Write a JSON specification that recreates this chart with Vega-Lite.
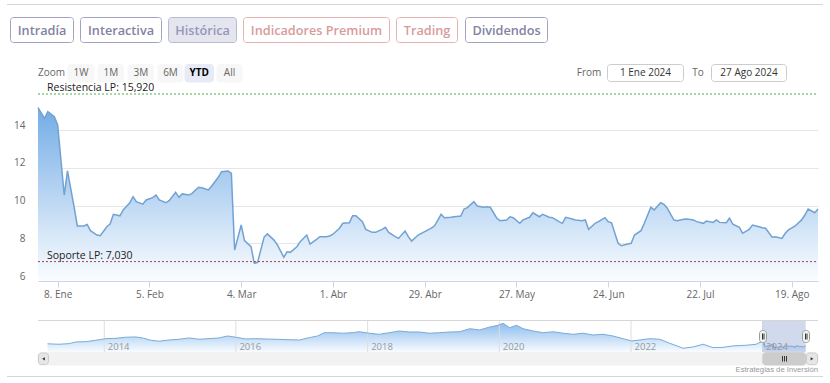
{
  "$schema": "https://vega.github.io/schema/vega-lite/v6.json",
  "width": 830,
  "height": 383,
  "autosize": {"type": "none"},
  "padding": 0,
  "background": "white",
  "config": {"view": {"stroke": null}, "font": "Open Sans"},
  "datasets": {
    "prices": [
      {"date": "2024-01-02", "close": 15.2}, {"date": "2024-01-04", "close": 14.63}, {"date": "2024-01-05", "close": 14.98},
      {"date": "2024-01-07", "close": 14.72}, {"date": "2024-01-08", "close": 14.28}, {"date": "2024-01-10", "close": 10.56},
      {"date": "2024-01-11", "close": 11.84}, {"date": "2024-01-13", "close": 9.94}, {"date": "2024-01-14", "close": 8.92},
      {"date": "2024-01-16", "close": 8.92}, {"date": "2024-01-17", "close": 9.0}, {"date": "2024-01-18", "close": 8.67},
      {"date": "2024-01-20", "close": 8.44}, {"date": "2024-01-21", "close": 8.4}, {"date": "2024-01-23", "close": 8.88},
      {"date": "2024-01-24", "close": 9.02}, {"date": "2024-01-25", "close": 9.54}, {"date": "2024-01-27", "close": 9.46},
      {"date": "2024-01-28", "close": 9.77}, {"date": "2024-01-30", "close": 10.15}, {"date": "2024-01-31", "close": 10.47},
      {"date": "2024-02-01", "close": 10.21}, {"date": "2024-02-03", "close": 10.08}, {"date": "2024-02-04", "close": 10.3},
      {"date": "2024-02-06", "close": 10.42}, {"date": "2024-02-07", "close": 10.56}, {"date": "2024-02-08", "close": 10.3},
      {"date": "2024-02-10", "close": 10.15}, {"date": "2024-02-11", "close": 10.26}, {"date": "2024-02-13", "close": 10.71},
      {"date": "2024-02-14", "close": 10.44}, {"date": "2024-02-15", "close": 10.62}, {"date": "2024-02-17", "close": 10.56},
      {"date": "2024-02-18", "close": 10.65}, {"date": "2024-02-20", "close": 10.97}, {"date": "2024-02-21", "close": 10.95},
      {"date": "2024-02-23", "close": 10.83}, {"date": "2024-02-24", "close": 11.04}, {"date": "2024-02-26", "close": 11.5},
      {"date": "2024-02-27", "close": 11.8}, {"date": "2024-02-29", "close": 11.84}, {"date": "2024-03-01", "close": 11.71},
      {"date": "2024-03-02", "close": 7.64}, {"date": "2024-03-04", "close": 8.97}, {"date": "2024-03-05", "close": 8.14},
      {"date": "2024-03-07", "close": 7.82}, {"date": "2024-03-08", "close": 6.94}, {"date": "2024-03-09", "close": 6.99},
      {"date": "2024-03-11", "close": 8.33}, {"date": "2024-03-12", "close": 8.5}, {"date": "2024-03-14", "close": 8.17},
      {"date": "2024-03-15", "close": 7.93}, {"date": "2024-03-17", "close": 7.26}, {"date": "2024-03-18", "close": 7.55},
      {"date": "2024-03-19", "close": 7.52}, {"date": "2024-03-21", "close": 7.82}, {"date": "2024-03-22", "close": 8.09},
      {"date": "2024-03-24", "close": 8.44}, {"date": "2024-03-25", "close": 7.96}, {"date": "2024-03-27", "close": 8.21},
      {"date": "2024-03-28", "close": 8.35}, {"date": "2024-03-30", "close": 8.35}, {"date": "2024-03-31", "close": 8.39},
      {"date": "2024-04-01", "close": 8.48}, {"date": "2024-04-03", "close": 8.8}, {"date": "2024-04-04", "close": 9.06},
      {"date": "2024-04-06", "close": 9.09}, {"date": "2024-04-07", "close": 9.46}, {"date": "2024-04-08", "close": 9.46},
      {"date": "2024-04-10", "close": 9.15}, {"date": "2024-04-11", "close": 8.74}, {"date": "2024-04-13", "close": 8.58},
      {"date": "2024-04-14", "close": 8.58}, {"date": "2024-04-16", "close": 8.74}, {"date": "2024-04-17", "close": 8.85},
      {"date": "2024-04-18", "close": 8.58}, {"date": "2024-04-20", "close": 8.35}, {"date": "2024-04-21", "close": 8.26},
      {"date": "2024-04-23", "close": 8.65}, {"date": "2024-04-24", "close": 8.35}, {"date": "2024-04-25", "close": 8.12},
      {"date": "2024-04-27", "close": 8.44}, {"date": "2024-04-28", "close": 8.53}, {"date": "2024-04-30", "close": 8.71},
      {"date": "2024-05-01", "close": 8.8}, {"date": "2024-05-02", "close": 8.93}, {"date": "2024-05-04", "close": 9.54},
      {"date": "2024-05-05", "close": 9.36}, {"date": "2024-05-07", "close": 9.38}, {"date": "2024-05-08", "close": 9.41},
      {"date": "2024-05-10", "close": 9.45}, {"date": "2024-05-11", "close": 9.82}, {"date": "2024-05-12", "close": 9.89},
      {"date": "2024-05-14", "close": 10.21}, {"date": "2024-05-15", "close": 9.98}, {"date": "2024-05-17", "close": 9.91},
      {"date": "2024-05-18", "close": 9.94}, {"date": "2024-05-19", "close": 9.91}, {"date": "2024-05-21", "close": 9.33},
      {"date": "2024-05-22", "close": 9.2}, {"date": "2024-05-24", "close": 9.24}, {"date": "2024-05-25", "close": 9.41},
      {"date": "2024-05-26", "close": 9.36}, {"date": "2024-05-28", "close": 9.06}, {"date": "2024-05-29", "close": 9.24},
      {"date": "2024-05-31", "close": 9.38}, {"date": "2024-06-01", "close": 9.62}, {"date": "2024-06-03", "close": 9.41},
      {"date": "2024-06-04", "close": 9.54}, {"date": "2024-06-06", "close": 9.38}, {"date": "2024-06-07", "close": 9.36},
      {"date": "2024-06-09", "close": 9.15}, {"date": "2024-06-10", "close": 9.06}, {"date": "2024-06-11", "close": 9.38},
      {"date": "2024-06-13", "close": 9.29}, {"date": "2024-06-14", "close": 9.24}, {"date": "2024-06-16", "close": 9.2},
      {"date": "2024-06-17", "close": 9.24}, {"date": "2024-06-18", "close": 8.74}, {"date": "2024-06-20", "close": 9.06},
      {"date": "2024-06-21", "close": 9.15}, {"date": "2024-06-23", "close": 9.36}, {"date": "2024-06-24", "close": 9.15},
      {"date": "2024-06-25", "close": 9.09}, {"date": "2024-06-27", "close": 8.0}, {"date": "2024-06-28", "close": 7.87},
      {"date": "2024-06-30", "close": 7.96}, {"date": "2024-07-01", "close": 8.0}, {"date": "2024-07-02", "close": 8.44},
      {"date": "2024-07-04", "close": 8.67}, {"date": "2024-07-05", "close": 9.06}, {"date": "2024-07-07", "close": 9.91},
      {"date": "2024-07-08", "close": 9.77}, {"date": "2024-07-10", "close": 10.15}, {"date": "2024-07-11", "close": 10.07},
      {"date": "2024-07-12", "close": 9.86}, {"date": "2024-07-14", "close": 9.24}, {"date": "2024-07-15", "close": 9.2},
      {"date": "2024-07-17", "close": 9.27}, {"date": "2024-07-18", "close": 9.29}, {"date": "2024-07-20", "close": 9.24},
      {"date": "2024-07-21", "close": 9.15}, {"date": "2024-07-23", "close": 9.06}, {"date": "2024-07-24", "close": 9.18},
      {"date": "2024-07-26", "close": 9.11}, {"date": "2024-07-27", "close": 9.24}, {"date": "2024-07-28", "close": 9.11},
      {"date": "2024-07-30", "close": 9.09}, {"date": "2024-07-31", "close": 9.33}, {"date": "2024-08-01", "close": 9.02},
      {"date": "2024-08-03", "close": 8.85}, {"date": "2024-08-04", "close": 8.53}, {"date": "2024-08-06", "close": 8.74},
      {"date": "2024-08-07", "close": 8.97}, {"date": "2024-08-09", "close": 8.88}, {"date": "2024-08-10", "close": 8.83},
      {"date": "2024-08-11", "close": 8.8}, {"date": "2024-08-13", "close": 8.32}, {"date": "2024-08-14", "close": 8.35},
      {"date": "2024-08-16", "close": 8.26}, {"date": "2024-08-17", "close": 8.53}, {"date": "2024-08-18", "close": 8.71},
      {"date": "2024-08-20", "close": 8.92}, {"date": "2024-08-22", "close": 9.24}, {"date": "2024-08-23", "close": 9.5},
      {"date": "2024-08-24", "close": 9.82}, {"date": "2024-08-26", "close": 9.62}, {"date": "2024-08-27", "close": 9.82}
    ],
    "history": [
      {"date": "2013-02-20", "close": 12.0}, {"date": "2013-04-25", "close": 11.5}, {"date": "2013-06-20", "close": 12.2},
      {"date": "2013-07-27", "close": 14.1}, {"date": "2013-09-21", "close": 14.4}, {"date": "2013-11-15", "close": 16.0},
      {"date": "2014-01-10", "close": 17.8}, {"date": "2014-03-07", "close": 18.2}, {"date": "2014-05-01", "close": 19.4},
      {"date": "2014-06-25", "close": 19.7}, {"date": "2014-08-01", "close": 18.6}, {"date": "2014-09-16", "close": 16.0},
      {"date": "2014-11-01", "close": 14.9}, {"date": "2014-12-27", "close": 16.3}, {"date": "2015-02-20", "close": 17.1},
      {"date": "2015-04-16", "close": 18.6}, {"date": "2015-06-11", "close": 17.1}, {"date": "2015-08-05", "close": 17.8},
      {"date": "2015-09-30", "close": 18.6}, {"date": "2015-11-15", "close": 20.8}, {"date": "2016-01-01", "close": 19.4},
      {"date": "2016-02-25", "close": 17.4}, {"date": "2016-04-21", "close": 17.8}, {"date": "2016-06-16", "close": 17.4},
      {"date": "2016-08-10", "close": 17.1}, {"date": "2016-10-05", "close": 16.7}, {"date": "2016-12-18", "close": 16.3},
      {"date": "2017-02-11", "close": 18.9}, {"date": "2017-03-29", "close": 20.8}, {"date": "2017-05-05", "close": 24.5},
      {"date": "2017-06-20", "close": 24.5}, {"date": "2017-08-14", "close": 23.9}, {"date": "2017-10-09", "close": 24.5},
      {"date": "2017-11-14", "close": 25.6}, {"date": "2018-01-10", "close": 23.9}, {"date": "2018-03-06", "close": 22.7},
      {"date": "2018-05-01", "close": 24.5}, {"date": "2018-06-25", "close": 26.4}, {"date": "2018-08-19", "close": 25.3},
      {"date": "2018-10-13", "close": 25.3}, {"date": "2018-12-08", "close": 23.9}, {"date": "2019-02-05", "close": 24.5},
      {"date": "2019-04-01", "close": 25.3}, {"date": "2019-05-27", "close": 25.6}, {"date": "2019-07-21", "close": 29.0},
      {"date": "2019-09-15", "close": 27.6}, {"date": "2019-11-09", "close": 30.9}, {"date": "2019-12-25", "close": 32.8},
      {"date": "2020-01-22", "close": 35.1}, {"date": "2020-02-28", "close": 30.1}, {"date": "2020-04-06", "close": 32.8},
      {"date": "2020-05-12", "close": 29.0}, {"date": "2020-07-07", "close": 26.4}, {"date": "2020-09-01", "close": 24.5},
      {"date": "2020-10-26", "close": 25.6}, {"date": "2020-12-20", "close": 23.9}, {"date": "2021-02-14", "close": 22.7},
      {"date": "2021-04-10", "close": 23.9}, {"date": "2021-06-04", "close": 21.9}, {"date": "2021-07-30", "close": 22.7},
      {"date": "2021-09-23", "close": 20.8}, {"date": "2021-11-17", "close": 17.8}, {"date": "2022-01-04", "close": 15.2},
      {"date": "2022-02-19", "close": 16.3}, {"date": "2022-04-15", "close": 17.8}, {"date": "2022-06-10", "close": 17.1},
      {"date": "2022-08-04", "close": 12.6}, {"date": "2022-10-17", "close": 7.0}, {"date": "2022-12-12", "close": 8.5},
      {"date": "2023-02-05", "close": 11.5}, {"date": "2023-04-01", "close": 7.7}, {"date": "2023-05-26", "close": 8.0},
      {"date": "2023-07-20", "close": 9.6}, {"date": "2023-10-03", "close": 10.4}, {"date": "2023-11-27", "close": 11.5},
      {"date": "2023-12-29", "close": 15.0}
    ],
    "years": [
      {"year": "2014-01-01"}, {"year": "2016-01-01"}, {"year": "2018-01-01"},
      {"year": "2020-01-01"}, {"year": "2022-01-01"}, {"year": "2024-01-01"}
    ],
    "levels": [
      {"label": "Resistencia LP: 15,920", "value": 15.92, "kind": "Resistencia"},
      {"label": "Soporte LP: 7,030", "value": 7.03, "kind": "Soporte"}
    ],
    "boxes": [
      {"role": "tab", "x0": 10.5, "x1": 73.5, "y0": 17.5, "y1": 42.5},
      {"role": "tab", "x0": 80.5, "x1": 161.5, "y0": 17.5, "y1": 42.5},
      {"role": "tabActive", "x0": 168.5, "x1": 236.5, "y0": 17.5, "y1": 42.5},
      {"role": "tabPremium", "x0": 243.5, "x1": 389.5, "y0": 17.5, "y1": 42.5},
      {"role": "tabPremium", "x0": 396.5, "x1": 457.5, "y0": 17.5, "y1": 42.5},
      {"role": "tab", "x0": 465.5, "x1": 547.5, "y0": 17.5, "y1": 42.5},
      {"role": "zoomBtn", "x0": 68, "x1": 94, "y0": 64.5, "y1": 82},
      {"role": "zoomBtn", "x0": 98, "x1": 123.5, "y0": 64.5, "y1": 82},
      {"role": "zoomBtn", "x0": 128, "x1": 153.5, "y0": 64.5, "y1": 82},
      {"role": "zoomBtn", "x0": 158, "x1": 183, "y0": 64.5, "y1": 82},
      {"role": "zoomActive", "x0": 185, "x1": 213.5, "y0": 64.5, "y1": 82},
      {"role": "zoomBtn", "x0": 217, "x1": 242, "y0": 64.5, "y1": 82},
      {"role": "input", "x0": 607.5, "x1": 683.5, "y0": 64.5, "y1": 81.5},
      {"role": "input", "x0": 711.5, "x1": 786.5, "y0": 64.5, "y1": 81.5},
      {"role": "track", "x0": 38, "x1": 818, "y0": 352.7, "y1": 365},
      {"role": "arrowBtn", "x0": 38.5, "x1": 48.5, "y0": 353, "y1": 364.5},
      {"role": "thumb", "x0": 762.8, "x1": 805.7, "y0": 352.7, "y1": 365},
      {"role": "arrowBtn", "x0": 806.5, "x1": 817.5, "y0": 353, "y1": 364.5},
      {"role": "handle", "x0": 759.5, "x1": 766.5, "y0": 330.5, "y1": 342.5},
      {"role": "handle", "x0": 802.5, "x1": 809.5, "y0": 330.5, "y1": 342.5}
    ],
    "grips": [
      {"x": 782.5, "y0": 356, "y1": 361.5},
      {"x": 784.5, "y0": 356, "y1": 361.5},
      {"x": 786.5, "y0": 356, "y1": 361.5},
      {"x": 762.5, "y0": 333.5, "y1": 339.5},
      {"x": 764, "y0": 333.5, "y1": 339.5},
      {"x": 805.5, "y0": 333.5, "y1": 339.5},
      {"x": 807, "y0": 333.5, "y1": 339.5}
    ],
    "arrows": [
      {"dir": "left", "x": 43.5, "y": 358.8},
      {"dir": "right", "x": 812, "y": 358.8}
    ],
    "tabLabels": [
      {"text": "Intradía", "role": "tab", "x": 42, "y": 30.5},
      {"text": "Interactiva", "role": "tab", "x": 121, "y": 30.5},
      {"text": "Histórica", "role": "tabActive", "x": 202.5, "y": 30.5},
      {"text": "Indicadores Premium", "role": "tabPremium", "x": 316.5, "y": 30.5},
      {"text": "Trading", "role": "tabPremium", "x": 427, "y": 30.5},
      {"text": "Dividendos", "role": "tab", "x": 506.5, "y": 30.5}
    ],
    "uiLabels": [
      {"text": "Zoom", "role": "muted", "x": 51.5, "y": 73},
      {"text": "1W", "role": "muted", "x": 81, "y": 73},
      {"text": "1M", "role": "muted", "x": 110.8, "y": 73},
      {"text": "3M", "role": "muted", "x": 140.8, "y": 73},
      {"text": "6M", "role": "muted", "x": 170.5, "y": 73},
      {"text": "All", "role": "muted", "x": 229.5, "y": 73},
      {"text": "From", "role": "muted", "x": 589, "y": 72.5},
      {"text": "1 Ene 2024", "role": "dark", "x": 645.5, "y": 72.5},
      {"text": "To", "role": "muted", "x": 698, "y": 72.5},
      {"text": "27 Ago 2024", "role": "dark", "x": 749, "y": 72.5}
    ],
    "credits": [
      {"text": "Estrategias de Inversión", "x": 818, "y": 370}
    ],
    "boldLabels": [
      {"text": "YTD", "x": 199.3, "y": 73}
    ],
    "lines": [
      {"x0": 7, "x1": 823, "y": 4.5},
      {"x0": 7, "x1": 823, "y": 376.5},
      {"x0": 38, "x1": 818, "y": 320.5}
    ]
  },
  "resolve": {
    "scale": {"x": "independent", "y": "independent", "color": "independent", "fill": "independent", "stroke": "independent", "size": "independent", "shape": "independent"},
    "axis": {"x": "independent", "y": "independent"}
  },
  "layer": [
    {
      "layer": [
        {
          "data": {"name": "prices"},
          "mark": {
            "type": "area",
            "fill": {"gradient": "linear", "x1": 0, "y1": 0, "x2": 0, "y2": 1,
              "stops": [{"offset": 0, "color": "#74ace6"}, {"offset": 1, "color": "#fbfdff"}]}
          },
          "encoding": {
            "x": {
              "field": "date", "type": "temporal",
              "scale": {"type": "utc", "domain": [{"year": 2024, "month": 1, "date": 2, "utc": true}, {"year": 2024, "month": 8, "date": 27, "utc": true}], "range": [38, 818]},
              "axis": {
                "orient": "bottom", "offset": -102, "title": null, "grid": false,
                "values": [
                  {"year": 2024, "month": 1, "date": 8, "utc": true},
                  {"year": 2024, "month": 2, "date": 5, "utc": true},
                  {"year": 2024, "month": 3, "date": 4, "utc": true},
                  {"year": 2024, "month": 4, "date": 1, "utc": true},
                  {"year": 2024, "month": 4, "date": 29, "utc": true},
                  {"year": 2024, "month": 5, "date": 27, "utc": true},
                  {"year": 2024, "month": 6, "date": 24, "utc": true},
                  {"year": 2024, "month": 7, "date": 22, "utc": true},
                  {"year": 2024, "month": 8, "date": 19, "utc": true}
                ],
                "labelExpr": "utcdate(datum.value) + '. ' + ['Ene','Feb','Mar','Abr','May','Jun','Jul','Ago','Sep','Oct','Nov','Dic'][utcmonth(datum.value)]",
                "domainColor": "#ccd6eb", "tickColor": "#ccd6eb", "tickSize": 6, "labelPadding": 2,
                "labelColor": "#666666", "labelFontSize": 10, "labelFont": "Open Sans", "labelFlush": false, "labelOverlap": false
              }
            },
            "y": {
              "field": "close", "type": "quantitative",
              "scale": {"domain": [6, 16], "range": [281, 92.5], "nice": false, "zero": false},
              "axis": {
                "orient": "left", "offset": -38, "title": null, "values": [6, 8, 10, 12, 14],
                "domain": false, "ticks": false, "grid": true, "gridColor": "#e6e6e6",
                "labelPadding": 13, "labelColor": "#666666", "labelFontSize": 10, "labelFont": "Open Sans",
                "labelBaseline": "alphabetic", "labelOffset": -2
              }
            },
            "y2": {"datum": 6}
          }
        },
        {
          "data": {"name": "prices"},
          "mark": {"type": "line", "color": "#72a2d2", "strokeWidth": 1.5},
          "encoding": {
            "x": {"field": "date", "type": "temporal"},
            "y": {"field": "close", "type": "quantitative"}
          }
        },
        {
          "data": {"name": "levels"},
          "mark": {"type": "rule", "strokeDash": [2, 2], "strokeWidth": 1},
          "encoding": {
            "x": {"datum": {"year": 2024, "month": 1, "date": 2, "utc": true}},
            "x2": {"datum": {"year": 2024, "month": 8, "date": 27, "utc": true}},
            "y": {"field": "value", "type": "quantitative"},
            "color": {"field": "kind", "type": "nominal", "scale": {"domain": ["Resistencia", "Soporte"], "range": ["#4fae4f", "#a04848"]}, "legend": null}
          }
        },
        {
          "data": {"name": "levels"},
          "mark": {"type": "text", "align": "left", "baseline": "middle", "dx": 9, "dy": -6, "fontSize": 10.5, "font": "Open Sans", "color": "#222222"},
          "encoding": {
            "x": {"datum": {"year": 2024, "month": 1, "date": 2, "utc": true}},
            "y": {"field": "value", "type": "quantitative"},
            "text": {"field": "label"}
          }
        }
      ]
    },
    {
      "layer": [
        {
          "data": {"name": "history"},
          "mark": {
            "type": "area",
            "fill": {"gradient": "linear", "x1": 0, "y1": 0, "x2": 0, "y2": 1,
              "stops": [{"offset": 0, "color": "#8dbdee"}, {"offset": 1, "color": "#fbfdff"}]}
          },
          "encoding": {
            "x": {
              "field": "date", "type": "temporal",
              "scale": {"type": "utc", "domain": [{"year": 2013, "month": 2, "date": 20, "utc": true}, {"year": 2024, "month": 8, "date": 27, "utc": true}], "range": [47.5, 805.7]},
              "axis": {
                "orient": "bottom", "offset": -62.5, "title": null, "zindex": 2,
                "values": [
                  {"year": 2014, "month": 1, "date": 1, "utc": true},
                  {"year": 2016, "month": 1, "date": 1, "utc": true},
                  {"year": 2018, "month": 1, "date": 1, "utc": true},
                  {"year": 2020, "month": 1, "date": 1, "utc": true},
                  {"year": 2022, "month": 1, "date": 1, "utc": true},
                  {"year": 2024, "month": 1, "date": 1, "utc": true}
                ],
                "format": "%Y", "domain": false, "ticks": false, "grid": false,
                "labelAlign": "left", "labelOffset": 3, "labelBaseline": "alphabetic", "labelPadding": 29,
                "labelColor": "#999999", "labelFontSize": 9.5, "labelFont": "Open Sans", "labelFlush": false, "labelOverlap": false
              }
            },
            "y": {
              "field": "close", "type": "quantitative",
              "scale": {"domain": [2, 38], "range": [352.7, 320.7], "nice": false, "zero": false},
              "axis": null
            },
            "y2": {"datum": 2}
          }
        },
        {
          "data": {"name": "prices"},
          "mark": {
            "type": "area",
            "fill": {"gradient": "linear", "x1": 0, "y1": 0, "x2": 0, "y2": 1,
              "stops": [{"offset": 0, "color": "#b3d3f3"}, {"offset": 1, "color": "#fbfdff"}]}
          },
          "encoding": {
            "x": {"field": "date", "type": "temporal"},
            "y": {"field": "close", "type": "quantitative"},
            "y2": {"datum": 2}
          }
        },
        {
          "data": {"name": "years"},
          "mark": {"type": "rule", "color": "#dedede", "strokeWidth": 1},
          "encoding": {
            "x": {"field": "year", "type": "temporal"},
            "y": {"datum": 38},
            "y2": {"datum": 2}
          }
        },
        {
          "data": {"name": "history"},
          "mark": {"type": "line", "color": "#7aaad8", "strokeWidth": 1},
          "encoding": {
            "x": {"field": "date", "type": "temporal"},
            "y": {"field": "close", "type": "quantitative"}
          }
        },
        {
          "data": {"name": "prices"},
          "mark": {"type": "line", "color": "#7aaad8", "strokeWidth": 1},
          "encoding": {
            "x": {"field": "date", "type": "temporal"},
            "y": {"field": "close", "type": "quantitative"}
          }
        },
        {
          "data": {"values": [{"range": "YTD"}]},
          "mark": {"type": "rect", "fill": "#6685c2", "opacity": 0.3},
          "encoding": {
            "x": {"datum": {"year": 2024, "month": 1, "date": 1, "utc": true}},
            "x2": {"datum": {"year": 2024, "month": 8, "date": 27, "utc": true}},
            "y": {"datum": 38},
            "y2": {"datum": 2}
          }
        }
      ]
    },
    {
      "layer": [
        {
          "data": {"name": "lines"},
          "mark": {"type": "rule", "color": "#d6d6d6", "strokeWidth": 1},
          "encoding": {
            "x": {"field": "x0", "type": "quantitative", "scale": {"domain": [0, 830], "range": [0, 830], "nice": false, "zero": false}, "axis": null},
            "x2": {"field": "x1"},
            "y": {"field": "y", "type": "quantitative", "scale": {"domain": [0, 383], "range": [0, 383], "nice": false, "zero": false}, "axis": null}
          }
        },
        {
          "data": {"name": "boxes"},
          "mark": {"type": "rect", "cornerRadius": 3, "strokeWidth": 1},
          "encoding": {
            "x": {"field": "x0", "type": "quantitative"},
            "x2": {"field": "x1"},
            "y": {"field": "y0", "type": "quantitative"},
            "y2": {"field": "y1"},
            "fill": {"field": "role", "type": "nominal", "legend": null,
              "scale": {"domain": ["tab", "tabActive", "tabPremium", "zoomBtn", "zoomActive", "input", "track", "arrowBtn", "thumb", "handle"],
                        "range": ["#ffffff", "#e4e5ef", "#ffffff", "#f7f7f7", "#e6ebf5", "#ffffff", "#f2f2f2", "#e6e6e6", "#cccccc", "#f2f2f2"]}},
            "stroke": {"field": "role", "type": "nominal", "legend": null,
              "scale": {"domain": ["tab", "tabActive", "tabPremium", "zoomBtn", "zoomActive", "input", "track", "arrowBtn", "thumb", "handle"],
                        "range": ["#a3a3bd", "#b9bbd2", "#e6b3b3", "#f7f7f7", "#e6ebf5", "#cccccc", "#f2f2f2", "#cccccc", "#cccccc", "#999999"]}}
          }
        },
        {
          "data": {"name": "grips"},
          "mark": {"type": "rule", "color": "#333333", "strokeWidth": 1},
          "encoding": {
            "x": {"field": "x", "type": "quantitative"},
            "y": {"field": "y0", "type": "quantitative"},
            "y2": {"field": "y1"}
          }
        },
        {
          "data": {"name": "arrows"},
          "mark": {"type": "point", "filled": true, "color": "#333333", "size": 10, "opacity": 1},
          "encoding": {
            "x": {"field": "x", "type": "quantitative"},
            "y": {"field": "y", "type": "quantitative"},
            "shape": {"field": "dir", "type": "nominal", "legend": null,
              "scale": {"domain": ["left", "right"], "range": ["triangle-left", "triangle-right"]}}
          }
        },
        {
          "data": {"name": "tabLabels"},
          "mark": {"type": "text", "align": "center", "baseline": "middle", "font": "Open Sans", "fontWeight": 600, "fontSize": 12.7},
          "encoding": {
            "x": {"field": "x", "type": "quantitative"},
            "y": {"field": "y", "type": "quantitative"},
            "text": {"field": "text"},
            "color": {"field": "role", "type": "nominal", "legend": null,
              "scale": {"domain": ["tab", "tabActive", "tabPremium", "muted", "dark"],
                        "range": ["#8282a2", "#9597ba", "#d89b9b", "#666666", "#333333"]}}
          }
        },
        {
          "data": {"name": "uiLabels"},
          "mark": {"type": "text", "align": "center", "baseline": "middle", "font": "Open Sans", "fontSize": 10},
          "encoding": {
            "x": {"field": "x", "type": "quantitative"},
            "y": {"field": "y", "type": "quantitative"},
            "text": {"field": "text"},
            "color": {"field": "role", "type": "nominal", "legend": null}
          }
        },
        {
          "data": {"name": "credits"},
          "mark": {"type": "text", "align": "right", "baseline": "middle", "font": "Liberation Sans", "fontSize": 7.7, "color": "#999999"},
          "encoding": {
            "x": {"field": "x", "type": "quantitative"},
            "y": {"field": "y", "type": "quantitative"},
            "text": {"field": "text"}
          }
        },
        {
          "data": {"name": "boldLabels"},
          "mark": {"type": "text", "align": "center", "baseline": "middle", "font": "Open Sans", "fontWeight": "bold", "fontSize": 10, "color": "#000000"},
          "encoding": {
            "x": {"field": "x", "type": "quantitative"},
            "y": {"field": "y", "type": "quantitative"},
            "text": {"field": "text"}
          }
        }
      ]
    }
  ]
}
